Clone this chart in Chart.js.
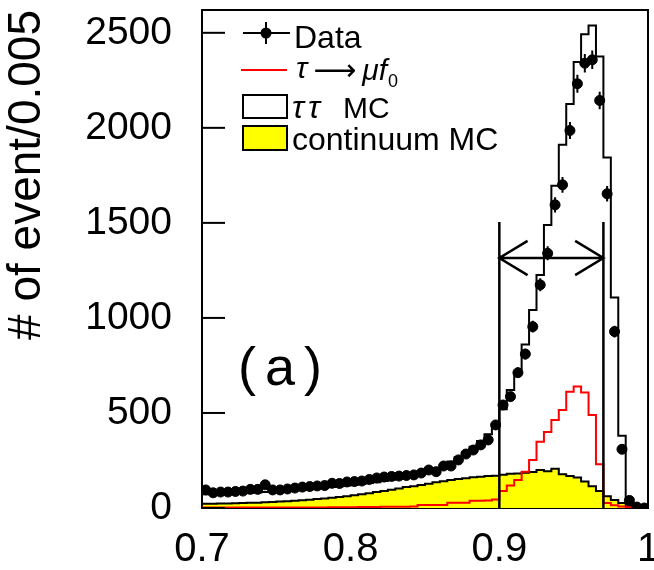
<!DOCTYPE html>
<html>
<head>
<meta charset="utf-8">
<script src="https://cdn.jsdelivr.net/npm/chart.js@4.4.0/dist/chart.umd.min.js"></script>
<style>
  html, body { margin: 0; padding: 0; background: #fff; }
  #wrap { width: 654px; height: 570px; }
</style>
</head>
<body>
<div id="wrap"><canvas id="chart" width="654" height="570"></canvas></div>
<script>
// histogram binning: 60 bins of 0.005 between 0.7 and 1.0
const binLow = 0.7;
const binWidth = 0.005;

const dataCounts = [
  95, 80, 84, 84, 87, 89, 98, 98, 122, 95,
  95, 100, 105, 110, 113, 116, 118, 130, 129, 137,
  139, 142, 150, 158, 163, 166, 168, 171, 174, 184,
  200, 191, 221, 221, 253, 284, 305, 332, 358, 437,
  542, 586, 712, 810, 954, 1174, 1340, 1595, 1700, 1986,
  2232, 2340, 2358, 2144, 1653, 928, 309, 40, 5, 0
];

// total MC (tau tau + continuum)
const tautauMC = [
  72, 72, 74, 75, 76, 78, 80, 82, 84, 86,
  88, 90, 93, 96, 99, 102, 106, 110, 114, 118,
  122, 126, 131, 136, 142, 148, 155, 163, 172, 182,
  195, 210, 226, 245, 268, 293, 322, 352, 388, 432,
  520, 621, 711, 860, 1042, 1226, 1489, 1695, 1911, 2126,
  2346, 2493, 2538, 2375, 1844, 1107, 380, 22, 8, 3
];

const continuumMC = [
  22, 22, 24, 24, 25, 26, 27, 28, 30, 32,
  34, 36, 38, 41, 44, 47, 50, 54, 58, 62,
  67, 72, 78, 84, 90, 96, 103, 110, 115, 121,
  128, 135, 141, 147, 152, 157, 162, 165, 168, 170,
  175, 180, 182, 186, 190, 200, 193, 207, 178, 168,
  160, 140, 115, 90, 62, 42, 26, 10, 4, 2
];

// tau -> mu f0 signal MC
const signalMC = [
  2, 2, 2, 2, 2, 2, 2, 2, 2, 2,
  3, 3, 3, 3, 3, 3, 3, 4, 4, 4,
  4, 5, 5, 5, 6, 6, 7, 7, 8, 16,
  16, 16, 16, 28, 28, 28, 38, 38, 40, 45,
  90, 118, 147, 191, 253, 349, 400, 463, 516, 612,
  639, 607, 489, 230, 26, 14, 8, 4, 2, 0
];

// selection window and arrow
const cutLow = 0.9;
const cutHigh = 0.97;
const cutTop = 1505;
const arrowY = 1315;
const arrowHeadDx = 0.019;
const arrowHeadDy = 90;

const xTickValues = [0.7, 0.8, 0.9, 1.0];
const xTickLabels = ['0.7', '0.8', '0.9', '1'];
const yTickValues = [0, 500, 1000, 1500, 2000, 2500];

const FONT = "'Liberation Sans', Arial, Helvetica, sans-serif";

// step histogram points (left edges + closing point)
function histPoints(vals) {
  const pts = [{ x: binLow, y: 0 }];
  vals.forEach((v, i) => pts.push({ x: binLow + i * binWidth, y: v }));
  pts.push({ x: binLow + vals.length * binWidth, y: 0 });
  return pts;
}

const dataPoints = dataCounts.map((v, i) => ({ x: binLow + (i + 0.5) * binWidth, y: v }));

// error bars (sqrt N vertically, half bin horizontally), broken with nulls
const errorBars = [];
dataCounts.forEach((v, i) => {
  const xc = binLow + (i + 0.5) * binWidth;
  const e = Math.sqrt(v);
  errorBars.push({ x: xc, y: v - e }, { x: xc, y: v + e }, { x: xc, y: null });
  errorBars.push({ x: xc - binWidth / 2, y: v }, { x: xc + binWidth / 2, y: v }, { x: xc, y: null });
});

const cutMarks = [
  { x: cutLow, y: 0 }, { x: cutLow, y: cutTop }, { x: cutLow, y: null },
  { x: cutHigh, y: 0 }, { x: cutHigh, y: cutTop }, { x: cutHigh, y: null },
  { x: cutLow, y: arrowY }, { x: cutHigh, y: arrowY }, { x: cutHigh, y: null },
  { x: cutLow + arrowHeadDx, y: arrowY + arrowHeadDy }, { x: cutLow, y: arrowY },
  { x: cutLow + arrowHeadDx, y: arrowY - arrowHeadDy }, { x: cutLow, y: null },
  { x: cutHigh - arrowHeadDx, y: arrowY + arrowHeadDy }, { x: cutHigh, y: arrowY },
  { x: cutHigh - arrowHeadDx, y: arrowY - arrowHeadDy }
];

const framePlugin = {
  id: 'frameAndLegend',
  afterDraw(chart) {
    const { ctx, chartArea: a, scales } = chart;
    ctx.save();
    ctx.strokeStyle = '#000';
    ctx.lineWidth = 2;
    // frame top and right
    ctx.beginPath();
    ctx.moveTo(a.left, a.top);
    ctx.lineTo(a.right, a.top);
    ctx.lineTo(a.right, a.bottom);
    ctx.stroke();
    // inner y ticks
    yTickValues.forEach(v => {
      const y = scales.y.getPixelForValue(v);
      ctx.beginPath();
      ctx.moveTo(a.left, y);
      ctx.lineTo(a.left + 23, y);
      ctx.stroke();
    });

    // legend
    ctx.fillStyle = '#000';
    ctx.textBaseline = 'alphabetic';
    ctx.textAlign = 'left';
    // Data
    ctx.beginPath();
    ctx.moveTo(243, 33); ctx.lineTo(290, 33);
    ctx.moveTo(266, 22); ctx.lineTo(266, 44);
    ctx.stroke();
    ctx.beginPath();
    ctx.arc(266, 33, 5.5, 0, Math.PI * 2);
    ctx.fill();
    ctx.font = '32px ' + FONT;
    ctx.fillText('Data', 294, 48);

    // signal
    ctx.strokeStyle = '#ff0000';
    ctx.beginPath();
    ctx.moveTo(241, 70); ctx.lineTo(287, 70);
    ctx.stroke();
    let x = 296;
    ctx.font = 'italic 30px ' + FONT;
    ctx.fillText('\u03c4', x, 78);
    x += ctx.measureText('\u03c4').width + 6;
    ctx.font = "30px 'DejaVu Sans', sans-serif";
    ctx.fillText('\u27f6', x, 80);
    x += ctx.measureText('\u27f6').width + 6;
    ctx.font = 'italic 30px ' + FONT;
    ctx.fillText('\u03bcf', x, 80);
    x += ctx.measureText('\u03bcf').width + 1;
    ctx.font = '18px ' + FONT;
    ctx.fillText('0', x, 87);

    // tau tau MC box
    ctx.strokeStyle = '#000';
    ctx.fillStyle = '#fff';
    ctx.fillRect(243, 95, 44, 23);
    ctx.strokeRect(243, 95, 44, 23);
    ctx.fillStyle = '#000';
    ctx.font = 'italic 32px ' + FONT;
    ctx.letterSpacing = '4px';
    ctx.fillText('\u03c4\u03c4', 292, 118);
    ctx.letterSpacing = '0px';
    ctx.font = '30px ' + FONT;
    ctx.fillText('MC', 343, 118);

    // continuum box
    ctx.fillStyle = '#ffff00';
    ctx.fillRect(243, 126, 44, 24);
    ctx.strokeRect(243, 126, 44, 24);
    ctx.fillStyle = '#000';
    ctx.font = '32px ' + FONT;
    ctx.fillText('continuum MC', 292, 150);

    // panel label
    ctx.font = '54px ' + FONT;
    ctx.letterSpacing = '9px';
    ctx.fillText('(a)', 238, 385);
    ctx.letterSpacing = '0px';
    ctx.restore();
  }
};

new Chart(document.getElementById('chart'), {
  type: 'line',
  data: {
    datasets: [
      {
        label: 'Data',
        data: dataPoints,
        showLine: false,
        pointRadius: 5,
        pointBackgroundColor: '#000',
        pointBorderColor: '#000',
        order: 0
      },
      {
        label: 'errors',
        data: errorBars,
        borderColor: '#000',
        borderWidth: 2,
        pointRadius: 0,
        spanGaps: false,
        order: 1
      },
      {
        label: 'cuts',
        data: cutMarks,
        borderColor: '#000',
        borderWidth: 2.5,
        pointRadius: 0,
        spanGaps: false,
        order: 2
      },
      {
        label: 'tau -> mu f0',
        data: histPoints(signalMC),
        stepped: 'before',
        borderColor: '#ff0000',
        borderWidth: 2,
        pointRadius: 0,
        fill: false,
        order: 3
      },
      {
        label: 'continuum MC',
        data: histPoints(continuumMC),
        stepped: 'before',
        borderColor: '#000',
        borderWidth: 2,
        backgroundColor: '#ffff00',
        pointRadius: 0,
        fill: 'origin',
        order: 4
      },
      {
        label: 'tautau MC',
        data: histPoints(tautauMC),
        stepped: 'before',
        borderColor: '#000',
        borderWidth: 2,
        backgroundColor: '#ffffff',
        pointRadius: 0,
        fill: 'origin',
        order: 5
      }
    ]
  },
  options: {
    responsive: false,
    animation: false,
    devicePixelRatio: 1,
    layout: { padding: { top: 10, right: 5, left: 0, bottom: 0 } },
    plugins: {
      legend: { display: false },
      tooltip: { enabled: false }
    },
    scales: {
      x: {
        type: 'linear',
        min: 0.7,
        max: 1.0,
        afterBuildTicks: s => { s.ticks = xTickValues.map(v => ({ value: v })); },
        afterFit: s => { s.height = 62; s.paddingLeft = 0; s.paddingRight = 0; },
        ticks: {
          callback: (v, i) => xTickLabels[i],
          font: { family: FONT, size: 40 },
          color: '#000',
          padding: 18,
          maxRotation: 0,
          autoSkip: false
        },
        grid: { display: false, drawTicks: false },
        border: { display: true, color: '#000', width: 2 }
      },
      y: {
        min: 0,
        max: 2620,
        afterBuildTicks: s => { s.ticks = yTickValues.map(v => ({ value: v })); },
        afterFit: s => { s.width = 202; s.paddingTop = 0; s.paddingBottom = 0; },
        ticks: {
          callback: v => String(v),
          font: { family: FONT, size: 39 },
          color: '#000',
          padding: 30
        },
        title: {
          display: true,
          text: '# of event/0.005',
          align: 'end',
          color: '#000',
          font: { family: FONT, size: 46 },
          padding: { top: 0, bottom: 0 }
        },
        grid: { display: false, drawTicks: false },
        border: { display: true, color: '#000', width: 2 }
      }
    }
  },
  plugins: [framePlugin]
});
</script>
</body>
</html>
